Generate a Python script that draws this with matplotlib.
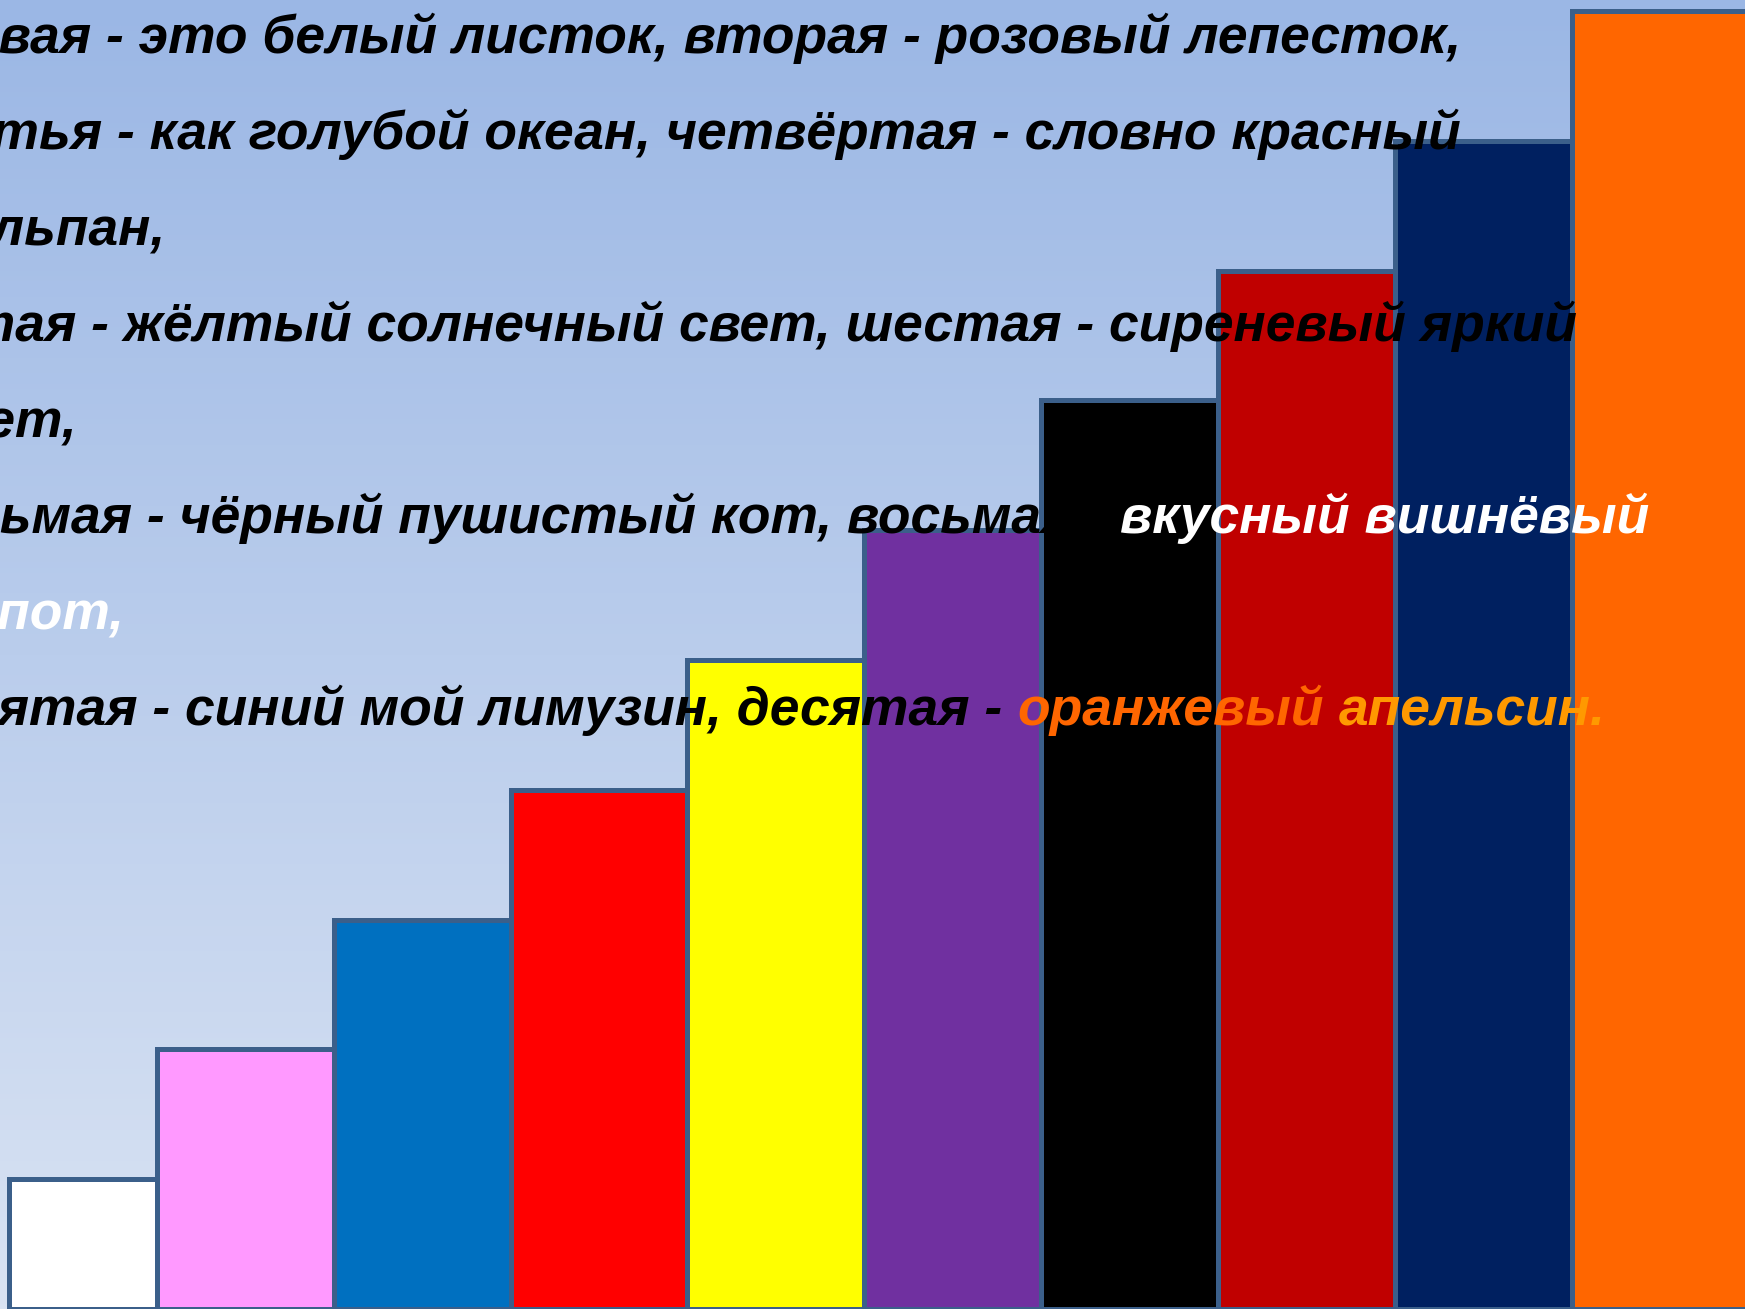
import numpy as np
import matplotlib.pyplot as plt
from matplotlib.colors import LinearSegmentedColormap

# steps, one per colour
values = [1, 2, 3, 4, 5, 6, 7, 8, 9, 10]
bar_colors = ['#FFFFFF', '#FF99FF', '#0070C0', '#FF0000', '#FFFF00',
              '#7030A0', '#000000', '#C00000', '#002060', '#FF6600']

# poem lines, each as (text, colour) pieces
lines = [
    [("Первая - это белый листок, вторая - розовый лепесток,", 'black')],
    [("Третья - как голубой океан, четвёртая - словно красный", 'black')],
    [("тюльпан,", 'black')],
    [("Пятая - жёлтый солнечный свет, шестая - сиреневый яркий", 'black')],
    [("цвет,", 'black')],
    [("Седьмая - чёрный пушистый кот, восьмая - ", 'black'),
     ("вкусный вишнёвый", 'white')],
    [("компот,", 'white')],
    [("Девятая - синий мой лимузин, десятая - ", 'black'),
     ("оранжевый", '#FF6600'), (" апельсин.", '#FF9900')],
]

W, H = 1745, 1309
fig = plt.figure(figsize=(W / 100, H / 100), dpi=100)
ax = fig.add_axes([0, 0, 1, 1])
xlim = (0.113, 9.98)
ylim = (0, 10.085)

# background gradient
bg = LinearSegmentedColormap.from_list('bg', ['#D9E3F3', '#9BB7E5'])
grad = np.linspace(0, 1, 256).reshape(-1, 1)
ax.imshow(grad, extent=[xlim[0], xlim[1], ylim[0], ylim[1]], origin='lower',
          aspect='auto', cmap=bg, zorder=0)

lefts = np.arange(len(values), dtype=float)
widths = np.ones(len(values))
lefts[0] = 0.165   # first step is a bit narrower
widths[0] = 0.835
ax.bar(lefts, values, width=widths, align='edge', color=bar_colors,
       edgecolor='#3B5F8A', linewidth=3.6, zorder=2)

ax.set_xlim(*xlim)
ax.set_ylim(*ylim)
ax.axis('off')

# text
kw = dict(fontsize=38.4, fontweight='bold', fontstyle='italic',
          family=['Liberation Sans', 'DejaVu Sans'], va='baseline', ha='left',
          transform=None, zorder=3)
renderer = fig.canvas.get_renderer()


def tw(s):
    t = ax.text(0, 0, s, **kw)
    w = t.get_window_extent(renderer).width
    t.remove()
    return w


# the text box starts off the left edge of the slide
x0 = -(tw("Первая") - tw("вая")) - 1
base0 = 53
step = 96
indent = {4: 22}  # "цвет," sits a little further right

for i, segs in enumerate(lines):
    y = H - (base0 + i * step)
    xs = x0 + indent.get(i, 0)
    full = ""
    for s, c in segs:
        full += s
        piece = s.strip()
        x = xs + tw(full.rstrip()) - tw(piece) if full.strip() != piece else xs
        ax.text(x, y, piece, color=c, **kw)

fig.savefig('out.png', dpi=100)
